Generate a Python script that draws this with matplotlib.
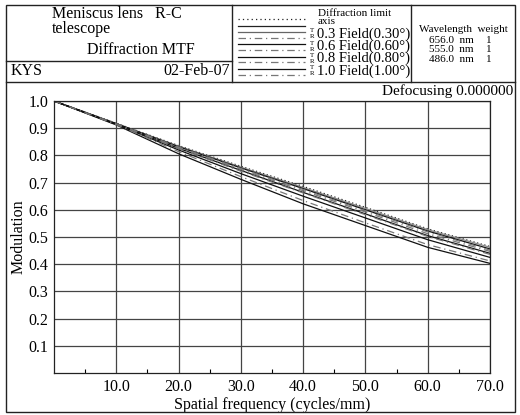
import numpy as np
import matplotlib.pyplot as plt
from matplotlib.lines import Line2D
from matplotlib.patches import Rectangle

plt.rcParams['font.family'] = ['Liberation Serif', 'DejaVu Serif']

W, H = 520, 415

# spatial frequency (cycles/mm)
freq = [0, 10, 20, 30, 40, 50, 60, 70]

# MTF values
diff_limit = [1.0, 0.918, 0.836, 0.760, 0.686, 0.609, 0.530, 0.465]
axis_mtf = [1.0, 0.917, 0.834, 0.757, 0.682, 0.605, 0.527, 0.462]
f03_t = [1.0, 0.917, 0.832, 0.754, 0.678, 0.600, 0.522, 0.456]
f03_r = [1.0, 0.916, 0.831, 0.752, 0.675, 0.597, 0.519, 0.452]
f06_t = [1.0, 0.915, 0.826, 0.745, 0.664, 0.585, 0.505, 0.440]
f06_r = [1.0, 0.916, 0.829, 0.748, 0.670, 0.592, 0.512, 0.447]
f08_t = [1.0, 0.914, 0.820, 0.733, 0.650, 0.570, 0.490, 0.425]
f08_r = [1.0, 0.915, 0.825, 0.742, 0.662, 0.582, 0.502, 0.436]
f10_t = [1.0, 0.912, 0.806, 0.712, 0.622, 0.542, 0.462, 0.403]
f10_r = [1.0, 0.913, 0.814, 0.722, 0.634, 0.552, 0.472, 0.412]

field_labels = ["0.3 Field(0.30\u00b0)", "0.6 Field(0.60\u00b0)",
                "0.8 Field(0.80\u00b0)", "1.0 Field(1.00\u00b0)"]
wavelengths = ["656.0", "555.0", "486.0"]
weights = ["1", "1", "1"]
y_ticks = [0.1, 0.2, 0.3, 0.4, 0.5, 0.6, 0.7, 0.8, 0.9, 1.0]
x_ticks = [10, 20, 30, 40, 50, 60, 70]


def px(x, y):
    """pixel position (from top-left) -> figure fraction"""
    return x / W, 1 - y / H


fig = plt.figure(figsize=(W / 100, H / 100), dpi=100)

# plot area
x0, x1, y0, y1 = 54, 490, 101, 373
ax = fig.add_axes([x0 / W, 1 - y1 / H, (x1 - x0) / W, (y1 - y0) / H])

T_STYLE = dict(color='#111111', lw=0.9, ls='-')
R_STYLE = dict(color='#777777', lw=0.9, ls=(0, (6, 3, 1, 3)))

ax.plot(freq, diff_limit, color='#222222', lw=0.9, ls=(0, (1, 2)))
ax.plot(freq, axis_mtf, color='#888888', lw=0.9)
for t, r in [(f03_t, f03_r), (f06_t, f06_r), (f08_t, f08_r), (f10_t, f10_r)]:
    ax.plot(freq, t, **T_STYLE)
    ax.plot(freq, r, **R_STYLE)

ax.set_xlim(0, 70)
ax.set_ylim(0, 1.0)
ax.set_xticks(x_ticks)
ax.set_xticklabels([f"{v:.1f}" for v in x_ticks])
ax.set_yticks(y_ticks)
ax.set_yticklabels([f"{v:.1f}" for v in y_ticks])
ax.set_xticks(np.arange(5, 70, 10), minor=True)
ax.tick_params(axis='x', which='minor', direction='in', length=3, width=0.8)
ax.tick_params(axis='both', which='major', length=0, labelsize=11.5, pad=4)
ax.grid(True, which='major', color='#444444', lw=0.9)
for s in ax.spines.values():
    s.set_linewidth(0.9)
    s.set_color('#222222')

ax.set_xlabel("Spatial frequency (cycles/mm)", fontsize=11.5, labelpad=2)
ax.set_ylabel("Modulation", fontsize=11.5)
ax.yaxis.set_label_coords(-(x0 - 27) / (x1 - x0), 0.5)

# frame and header boxes
lc = '#222222'
fig.add_artist(Rectangle(px(6, 412), 509 / W, 407 / H, transform=fig.transFigure,
                         fill=False, lw=1.0, ec=lc))
for (xa, ya), (xb, yb) in [((6, 82), (515, 82)), ((6, 61), (232, 61)),
                           ((232, 5), (232, 82)), ((411, 5), (411, 82))]:
    a, b = px(xa, ya), px(xb, yb)
    fig.add_artist(Line2D([a[0], b[0]], [a[1], b[1]], transform=fig.transFigure, lw=1.0, color=lc))

fig.text(*px(52, 14), "Meniscus lens   R-C", fontsize=11.5, va='center')
fig.text(*px(52, 29), "telescope", fontsize=11.5, va='center')
fig.text(*px(87, 50), "Diffraction MTF", fontsize=11.5, va='center')
fig.text(*px(11, 71), "KYS", fontsize=11.5, va='center')
fig.text(*px(230, 71), "02-Feb-07", fontsize=11.5, va='center', ha='right')

# legend box
leg_lines = [
    (19, dict(color='#222222', lw=0.9, ls=(0, (1, 2.5)))),
    (26, dict(color='#222222', lw=0.9)),
    (32, dict(color='#666666', lw=0.9)), (38, R_STYLE),
    (44, T_STYLE), (50, R_STYLE),
    (57, T_STYLE), (62, R_STYLE),
    (69, T_STYLE), (75, R_STYLE),
]
for yy, st in leg_lines:
    a, b = px(238, yy), px(305, yy)
    fig.add_artist(Line2D([a[0], b[0]], [a[1], b[1]], transform=fig.transFigure, **st))

fig.text(*px(318, 13), "Diffraction limit", fontsize=8, va='center')
fig.text(*px(318, 22), "axis", fontsize=8, va='center')
for i, lab in enumerate(field_labels):
    yy = 34 + i * 12.3
    fig.text(*px(317, yy), lab, fontsize=10.5, va='center')
    fig.text(*px(310, yy - 3), "T", fontsize=5, va='center')
    fig.text(*px(310, yy + 3), "R", fontsize=5, va='center')

# wavelength box
fig.text(*px(419, 30), "Wavelength  weight", fontsize=8, va='center')
for i, (wl, wt) in enumerate(zip(wavelengths, weights)):
    yy = 40.5 + i * 9.5
    fig.text(*px(429, yy), f"{wl}  nm", fontsize=8, va='center')
    fig.text(*px(486, yy), wt, fontsize=8, va='center')

fig.text(*px(513, 91), "Defocusing 0.000000", fontsize=11, va='center', ha='right')

fig.savefig("out.png", dpi=100)
